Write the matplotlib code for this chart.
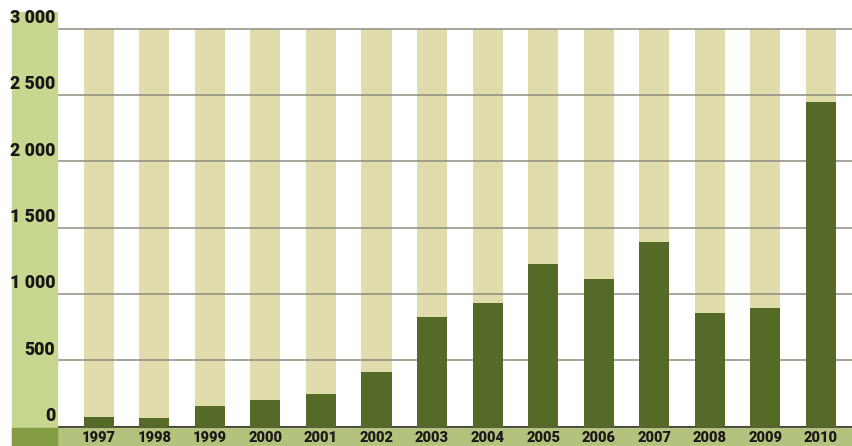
import matplotlib
matplotlib.use("Agg")
import matplotlib.pyplot as plt
from matplotlib.patches import Rectangle

years = ["1997", "1998", "1999", "2000", "2001", "2002", "2003",
         "2004", "2005", "2006", "2007", "2008", "2009", "2010"]
values = [68, 64, 156, 200, 247, 408, 823, 933, 1222, 1109, 1388, 858, 893, 2448]
yticks = [0, 500, 1000, 1500, 2000, 2500, 3000]
ytick_labels = ["0", "500", "1 000", "1 500", "2 000", "2 500", "3 000"]
ymax = 3000

W, H = 853, 446
fig = plt.figure(figsize=(W / 100, H / 100), dpi=100)
fig.patch.set_facecolor("white")

FONT = ["Roboto", "DejaVu Sans"]

def fx(px):
    return px / W

def fy(py):
    return 1 - py / H

# plot area (pixels)
ax_l, ax_r = 57, 853
y_top, y_zero = 28.5, 426.5
ax = fig.add_axes([fx(ax_l), fy(y_zero), fx(ax_r - ax_l), (y_zero - y_top) / H])
ax.set_facecolor("none")
for s in ax.spines.values():
    s.set_visible(False)

spacing = 55.56
first_center = 98.7
x0 = -(first_center - ax_l) / spacing
ax.set_xlim(x0, x0 + (ax_r - ax_l) / spacing)
ax.set_ylim(0, ymax)
ax.set_xticks([])
ax.set_yticks([])

xs = list(range(len(years)))
bw = 0.54
# pale background stripes
ax.bar(xs, [ymax] * len(xs), width=bw, color="#e0dcab", zorder=1)
# gridlines
for t in yticks:
    ax.axhline(t, color="#8e8c80" if t else "#3c3c30", lw=1.1 if t else 1.4,
               zorder=2, clip_on=False)
# data bars
ax.bar(xs, values, width=bw, color="#566a27", zorder=3)

# left green column
fig.patches.append(Rectangle((fx(12), fy(427)), fx(45), (427 - 12) / H,
                             transform=fig.transFigure, color="#c8d78f", zorder=0))
# bottom strip
fig.patches.append(Rectangle((fx(12), 0), fx(853 - 12), (H - 427.5) / H,
                             transform=fig.transFigure, color="#b3c27c", zorder=0))
fig.patches.append(Rectangle((fx(12), 0), fx(45), (H - 427.5) / H,
                             transform=fig.transFigure, color="#849c43", zorder=0))

# y labels (above each gridline)
for t, lab in zip(yticks, ytick_labels):
    py = y_zero - (y_zero - y_top) * t / ymax
    fig.text(fx(55.5), fy(py - 1.5), lab, ha="right", va="bottom",
             fontsize=12.8, fontweight="black", color="#161616", family=FONT)

# year labels
for i, yr in enumerate(years):
    px = first_center + spacing * i
    fig.text(fx(px), fy(438.5), yr, ha="center", va="center",
             fontsize=10.5, fontweight="black", color="#1a1a1a", family=FONT)

fig.savefig("out.png", dpi=100)
